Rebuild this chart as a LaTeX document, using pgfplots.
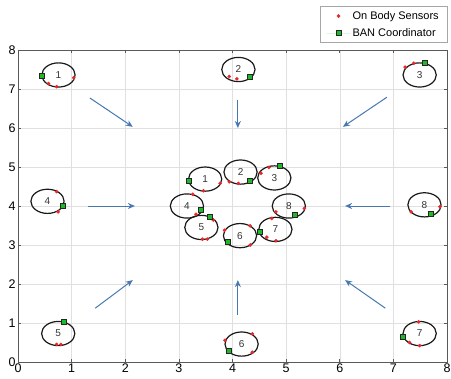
\documentclass[border=0pt]{standalone}
\usepackage{pgfplots}
\pgfplotsset{compat=1.18}
\usepackage{fontspec}
\setmainfont{Liberation Sans}
\usetikzlibrary{arrows.meta,calc}
\definecolor{arrowblue}{RGB}{70,120,178}
\definecolor{sensred}{RGB}{232,40,42}
\definecolor{coordgreen}{RGB}{30,185,40}
\tikzset{banlab/.style={font=\fontsize{10}{12}\selectfont, text=black!80}}
\begin{document}
\begin{tikzpicture}
\begin{axis}[
  scale only axis,
  width=429pt, height=312pt,
  xmin=0, xmax=8, ymin=0, ymax=8,
  xtick={0,1,...,8}, ytick={0,1,...,8},
  grid=major,
  grid style={black!12, line width=0.5pt},
  axis line style={black!65, line width=0.6pt},
  tick style={black!65, line width=0.6pt},
  major tick length=3pt,
  tick align=inside,
  /pgf/number format/assume math mode=true,
  tick label style={font=\fontsize{12.5}{14}\selectfont},
  xticklabel style={yshift=2pt},
  yticklabel style={xshift=1pt},
  clip=false,
  legend style={at={(1,1)}, anchor=south east, yshift=7pt,
    draw=black!35, line width=0.5pt,
    font=\fontsize{11}{13}\selectfont,
    inner xsep=6pt, inner ysep=3pt, row sep=3.5pt},
  legend cell align=left,
  legend image code/.code={\path[draw=none] (0pt,0pt) -- (24pt,0pt);
    \draw[#1] plot coordinates {(12pt,0pt)};},
]
\coordinate (ll) at (rel axis cs:0,0);
\coordinate (ur) at (rel axis cs:1,1);
% on-body sensors
\addplot[only marks, mark=*, mark size=1.6pt, color=sensred] table {
x y
0.57 7.14
0.72 7.06
1.04 7.29
3.94 7.32
4.08 7.26
7.38 7.66
7.22 7.56
0.72 4.37
0.75 3.85
7.33 3.85
7.87 3.98
0.72 0.45
0.80 0.45
3.86 0.56
4.37 0.72
4.37 0.25
7.47 1.03
7.30 0.50
7.49 0.42
3.46 4.39
3.77 4.58
4.11 4.58
3.94 4.62
4.68 4.99
4.53 4.84
3.26 4.30
3.32 3.79
3.44 3.15
3.53 3.15
3.64 3.64
3.85 3.38
4.33 3.49
4.33 3.00
4.64 3.20
4.81 3.11
4.73 3.68
5.34 3.94
4.81 3.85
};
\addlegendentry{On Body Sensors\hspace{27pt}}
% BAN coordinators
\addplot[only marks, mark=square*, mark size=2.5pt, draw=black!85, fill=coordgreen, line width=0.7pt] table {
x y
0.44 7.33
4.32 7.32
7.59 7.66
0.83 4.00
7.69 3.79
0.85 1.02
3.94 0.29
7.18 0.65
3.18 4.64
4.33 4.65
4.89 5.03
3.41 3.90
3.58 3.73
3.92 3.08
4.51 3.34
5.16 3.77
};
\addlegendentry{BAN Coordinator}
% arrows
\addplot[forget plot, arrowblue, line width=1pt, -{Stealth[length=7pt,width=6pt]},
  quiver={u=\thisrow{u}, v=\thisrow{v}}] table {
x y u v
1.34 6.77 0.80 -0.74
4.10 6.72 0.00 -0.72
6.88 6.79 -0.82 -0.76
1.31 4.00 0.87 0.00
6.94 4.00 -0.84 0.00
1.44 1.38 0.70 0.72
4.10 1.20 0.00 0.90
6.85 1.38 -0.75 0.72
};
% ellipses (body area networks)
\draw[black!90, line width=1.2pt] (axis cs:0.755,7.36) ellipse [x radius=0.31, y radius=0.31];
\draw[black!90, line width=1.2pt] (axis cs:4.11,7.50) ellipse [x radius=0.31, y radius=0.31];
\draw[black!90, line width=1.2pt] (axis cs:7.49,7.36) ellipse [x radius=0.31, y radius=0.31];
\draw[black!90, line width=1.2pt] (axis cs:0.55,4.12) ellipse [x radius=0.31, y radius=0.31];
\draw[black!90, line width=1.2pt] (axis cs:7.58,4.03) ellipse [x radius=0.31, y radius=0.31];
\draw[black!90, line width=1.2pt] (axis cs:0.75,0.73) ellipse [x radius=0.31, y radius=0.31];
\draw[black!90, line width=1.2pt] (axis cs:4.17,0.46) ellipse [x radius=0.31, y radius=0.31];
\draw[black!90, line width=1.2pt] (axis cs:7.49,0.73) ellipse [x radius=0.31, y radius=0.31];
\draw[black!90, line width=1.2pt] (axis cs:3.49,4.69) ellipse [x radius=0.31, y radius=0.31];
\draw[black!90, line width=1.2pt] (axis cs:4.15,4.87) ellipse [x radius=0.31, y radius=0.31];
\draw[black!90, line width=1.2pt] (axis cs:4.78,4.72) ellipse [x radius=0.31, y radius=0.31];
\draw[black!90, line width=1.2pt] (axis cs:3.15,4.00) ellipse [x radius=0.31, y radius=0.31];
\draw[black!90, line width=1.2pt] (axis cs:3.42,3.45) ellipse [x radius=0.31, y radius=0.31];
\draw[black!90, line width=1.2pt] (axis cs:4.14,3.24) ellipse [x radius=0.31, y radius=0.31];
\draw[black!90, line width=1.2pt] (axis cs:4.80,3.40) ellipse [x radius=0.31, y radius=0.31];
\draw[black!90, line width=1.2pt] (axis cs:5.05,4.00) ellipse [x radius=0.31, y radius=0.31];
\node[banlab] at (axis cs:0.755,7.36) {1};
\node[banlab] at (axis cs:4.11,7.50) {2};
\node[banlab] at (axis cs:7.49,7.36) {3};
\node[banlab] at (axis cs:0.55,4.12) {4};
\node[banlab] at (axis cs:7.58,4.03) {8};
\node[banlab] at (axis cs:0.75,0.73) {5};
\node[banlab] at (axis cs:4.17,0.46) {6};
\node[banlab] at (axis cs:7.49,0.73) {7};
\node[banlab] at (axis cs:3.49,4.69) {1};
\node[banlab] at (axis cs:4.15,4.87) {2};
\node[banlab] at (axis cs:4.78,4.72) {3};
\node[banlab] at (axis cs:3.15,4.00) {4};
\node[banlab] at (axis cs:3.42,3.45) {5};
\node[banlab] at (axis cs:4.14,3.24) {6};
\node[banlab] at (axis cs:4.80,3.40) {7};
\node[banlab] at (axis cs:5.05,4.00) {8};
\end{axis}
\pgfresetboundingbox
\path ($(ll)+(-18pt,-16pt)$) rectangle ($(ur)+(4pt,50pt)$);
\end{tikzpicture}
\end{document}
